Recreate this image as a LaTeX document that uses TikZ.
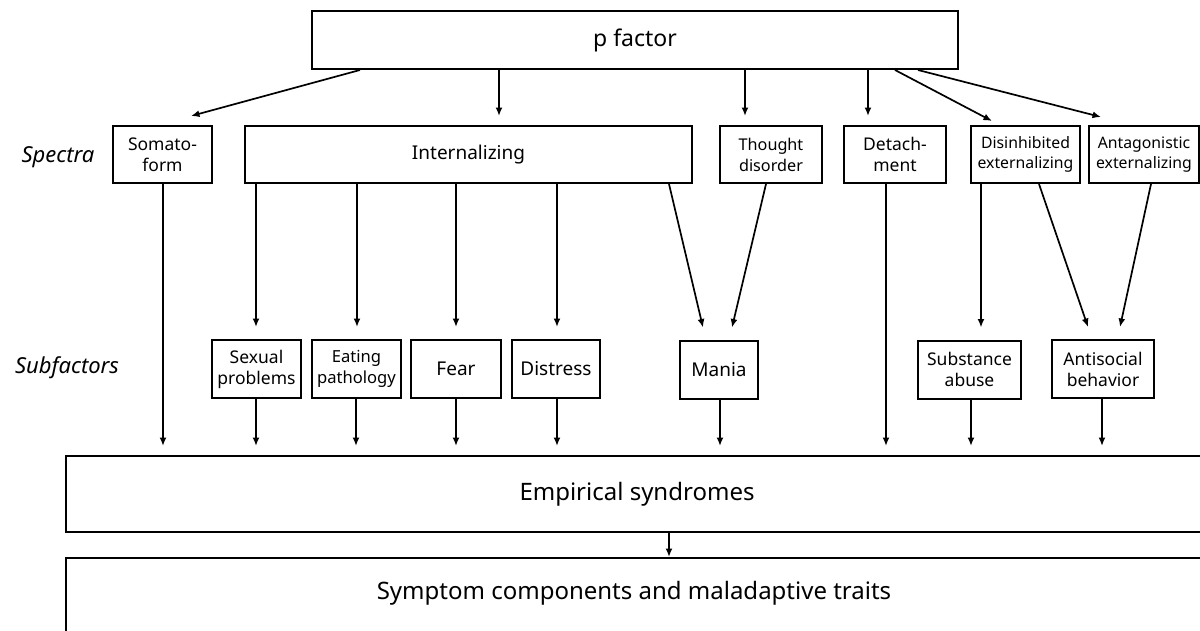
\documentclass[tikz,border=0pt]{standalone}
\usepackage{fontspec}
\setmainfont{Noto Sans}
\usetikzlibrary{calc,arrows.meta}
\newcommand\szbig{\fontsize{24}{28}\selectfont}
\newcommand\szlab{\fontsize{22}{26}\selectfont}
\newcommand\szmid{\fontsize{19}{23}\selectfont}
\newcommand\szsm{\fontsize{17.5}{21}\selectfont}
\newcommand\szxs{\fontsize{15.8}{20}\selectfont}
\begin{document}
\begin{tikzpicture}[x=1pt,y=-1pt,
  box/.style={draw, line width=2pt, inner sep=0pt, align=center},
  spbox/.style={box, minimum height=57pt},
  sfbox/.style={box, minimum height=58pt},
  arr/.style={line width=1.7pt, -{Latex[length=8.5pt,width=7pt]}},
  gapA/.style={shorten >=9pt},
  gapB/.style={shorten >=12pt}]
\useasboundingbox (0,0) rectangle (1200,630);
\clip (0,0) rectangle (1200,630);
\fill[white] (0,0) rectangle (1200,630);

% top
\node[box, minimum width=646pt, minimum height=58pt, font=\fontsize{23}{27}\selectfont] (pf) at (635,40) {p factor};

% row labels
\node[font=\szlab\itshape] (spec) at (58,157) {Spectra};
\node[font=\szlab\itshape] (subf) at (67,368) {Subfactors};

% spectra
\node[spbox, minimum width=99pt, font=\szsm] (soma) at (162.5,154.5) {Somato-\\form};
\node[spbox, minimum width=447pt, font=\szmid] (intl) at (468.5,154.5) {Internalizing};
\node[spbox, minimum width=102pt, font=\fontsize{16.2}{21}\selectfont] (thought) at (771,154.5) {Thought\\disorder};
\node[spbox, minimum width=102pt, font=\szsm] (detach) at (895,154.5) {Detach-\\ment};
\node[spbox, minimum width=109pt, font=\szxs] (disinh) at (1025.5,154.5) {Disinhibited\\externalizing};
\node[spbox, minimum width=110pt, font=\szxs] (antag) at (1144,154.5) {Antagonistic\\externalizing};

% subfactors
\node[sfbox, minimum width=89pt, font=\szsm] (sexual) at (256.5,369) {Sexual\\problems};
\node[sfbox, minimum width=89pt, font=\fontsize{16.6}{21}\selectfont] (eating) at (356.5,369) {Eating\\pathology};
\node[sfbox, minimum width=90pt, font=\szmid] (fear) at (456,369) {Fear};
\node[sfbox, minimum width=88pt, font=\szmid] (distress) at (556,369) {Distress};
\node[sfbox, minimum width=78pt, font=\szmid] (mania) at (719,369.5) {Mania};
\node[sfbox, minimum width=103pt, font=\szsm] (subst) at (969.5,369.5) {Substance\\abuse};
\node[sfbox, minimum width=102pt, font=\szsm] (antis) at (1103,369) {Antisocial\\behavior};

% bottom boxes
\node[box, minimum width=1142pt, minimum height=76pt, font=\szbig] (emp) at (637,494) {Empirical syndromes};
\node[box, minimum width=1142pt, minimum height=90pt] (sym) at (637,603) {};
\node[font=\szbig] (symtxt) at (634,593) {Symptom components and maladaptive traits};

% p factor -> spectra
\draw[arr] (pf.south -| 360,0) -- ($(soma.north -| 191,0)+(0,-9)$);
\draw[arr,gapA] (pf.south -| 499,0) -- (intl.north -| 499,0);
\draw[arr,gapA] (pf.south -| 745,0) -- (thought.north -| 745,0);
\draw[arr,gapA] (pf.south -| 868,0) -- (detach.north -| 868,0);
\draw[arr] (pf.south -| 895,0) -- ($(disinh.north -| 992,0)+(0,-4)$);
\draw[arr] (pf.south -| 918,0) -- ($(antag.north -| 1101,0)+(0,-8)$);

% spectra -> subfactors
\draw[arr,gapB] (intl.south -| 256,0) -- (sexual.north -| 256,0);
\draw[arr,gapB] (intl.south -| 357,0) -- (eating.north -| 357,0);
\draw[arr,gapB] (intl.south -| 456,0) -- (fear.north -| 456,0);
\draw[arr,gapB] (intl.south -| 557,0) -- (distress.north -| 557,0);
\draw[arr] (intl.south -| 669,0) -- ($(mania.north -| 703,0)+(0,-12)$);
\draw[arr] (thought.south -| 766,0) -- ($(mania.north -| 732,0)+(0,-12)$);
\draw[arr,gapB] (disinh.south -| 981,0) -- (subst.north -| 981,0);
\draw[arr] (disinh.south -| 1039,0) -- ($(antis.north -| 1088,0)+(0,-12)$);
\draw[arr] (antag.south -| 1151,0) -- ($(antis.north -| 1120,0)+(0,-12)$);

% -> empirical syndromes
\draw[arr,gapA] (soma.south -| 163,0) -- (emp.north -| 163,0);
\draw[arr,gapA] (sexual.south -| 256,0) -- (emp.north -| 256,0);
\draw[arr,gapA] (eating.south -| 356,0) -- (emp.north -| 356,0);
\draw[arr,gapA] (fear.south -| 456,0) -- (emp.north -| 456,0);
\draw[arr,gapA] (distress.south -| 557,0) -- (emp.north -| 557,0);
\draw[arr,gapA] (mania.south -| 720,0) -- (emp.north -| 720,0);
\draw[arr,gapA] (detach.south -| 886,0) -- (emp.north -| 886,0);
\draw[arr,gapA] (subst.south -| 971,0) -- (emp.north -| 971,0);
\draw[arr,gapA] (antis.south -| 1102,0) -- (emp.north -| 1102,0);

% empirical -> symptoms
\draw[arr] (emp.south -| 669,0) -- (sym.north -| 669,0);
\end{tikzpicture}
\end{document}
